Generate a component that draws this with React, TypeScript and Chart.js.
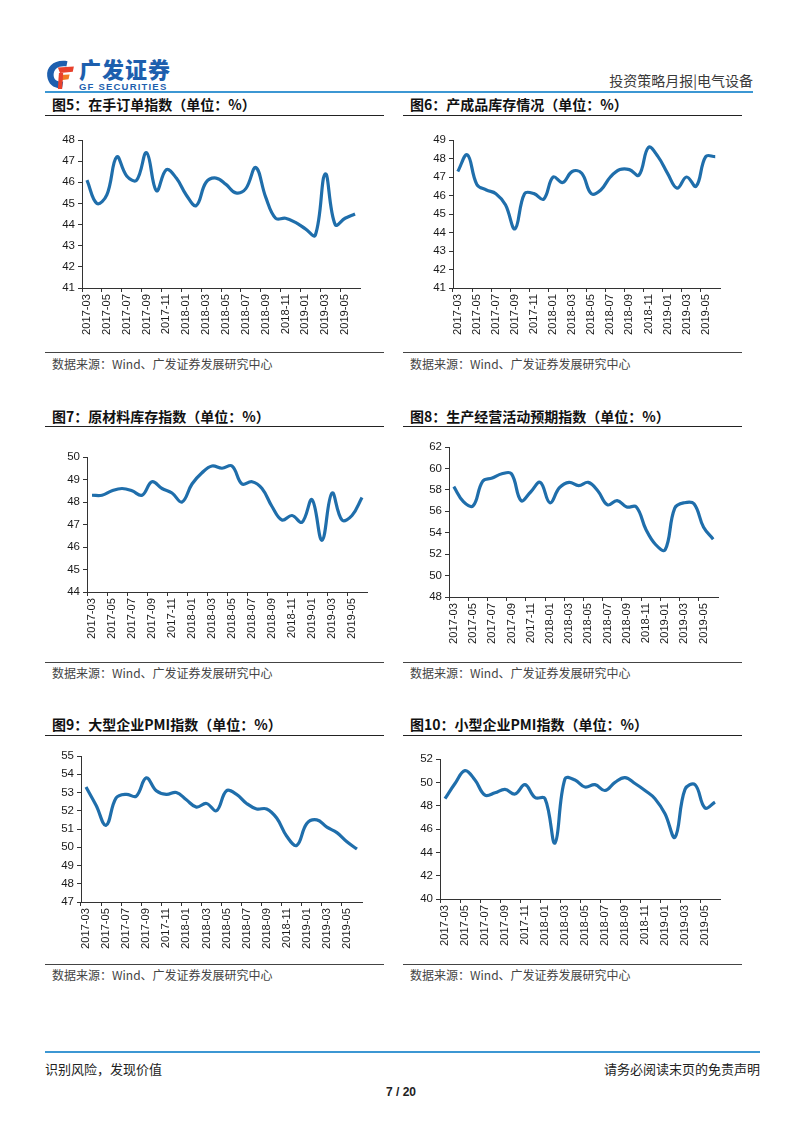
import React, { useEffect, useRef } from "react";
import { Chart, registerables } from "chart.js";
Chart.register(...registerables);

// ---------- data ----------
const months = [
  "2017-03", "2017-04", "2017-05", "2017-06", "2017-07", "2017-08", "2017-09",
  "2017-10", "2017-11", "2017-12", "2018-01", "2018-02", "2018-03", "2018-04",
  "2018-05", "2018-06", "2018-07", "2018-08", "2018-09", "2018-10", "2018-11",
  "2018-12", "2019-01", "2019-02", "2019-03", "2019-04", "2019-05", "2019-06",
];
const onHandOrders = [46.1, 45.0, 45.4, 47.2, 46.3, 46.1, 47.4, 45.6, 46.6, 46.2, 45.4, 44.9, 46.0, 46.2, 45.9, 45.5, 45.7, 46.7, 45.3, 44.3, 44.3, 44.1, 43.8, 43.5, 46.4, 44.0, 44.3, 44.5];
const finishedGoods = [47.3, 48.2, 46.6, 46.3, 46.1, 45.5, 44.2, 46.1, 46.1, 45.8, 47.0, 46.7, 47.3, 47.2, 46.1, 46.3, 47.0, 47.4, 47.4, 47.1, 48.6, 48.1, 47.2, 46.4, 47.0, 46.5, 48.1, 48.1];
const rawMaterials = [48.3, 48.3, 48.5, 48.6, 48.5, 48.3, 48.9, 48.6, 48.4, 48.0, 48.8, 49.3, 49.6, 49.5, 49.6, 48.8, 48.9, 48.6, 47.8, 47.2, 47.4, 47.1, 48.1, 46.3, 48.4, 47.2, 47.4, 48.2];
const expectations = [58.3, 56.9, 56.5, 58.8, 59.1, 59.5, 59.5, 57.0, 57.8, 58.7, 56.8, 58.2, 58.7, 58.4, 58.7, 57.9, 56.6, 57.0, 56.4, 56.4, 54.3, 52.9, 52.4, 56.3, 56.8, 56.7, 54.5, 53.4];
const largePMI = [53.3, 52.3, 51.2, 52.7, 52.9, 52.8, 53.8, 53.1, 52.9, 53.0, 52.6, 52.2, 52.4, 52.0, 53.1, 52.9, 52.4, 52.1, 52.1, 51.6, 50.6, 50.1, 51.3, 51.5, 51.1, 50.8, 50.3, 49.9];
const smallPMI = [48.6, 49.9, 51.0, 50.2, 48.9, 49.1, 49.4, 49.0, 49.8, 48.7, 48.6, 44.8, 50.3, 50.2, 49.6, 49.8, 49.3, 50.0, 50.4, 49.9, 49.3, 48.6, 47.3, 45.3, 49.4, 49.8, 47.8, 48.3];

const titles = [
  "图5：在手订单指数（单位：%）",
  "图6：产成品库存情况（单位：%）",
  "图7：原材料库存指数（单位：%）",
  "图8：生产经营活动预期指数（单位：%）",
  "图9：大型企业PMI指数（单位：%）",
  "图10：小型企业PMI指数（单位：%）",
];
const sourceText = "数据来源：Wind、广发证券发展研究中心";

// ---------- styles / layout ----------
const LINE = "#1F6EAB";
const AXIS = "#333333";
const TXT = "#1a1a1a";
const TICK_FONT = "'Liberation Sans', Arial, sans-serif";
const CJK = "'Noto Sans CJK SC', 'Noto Sans', sans-serif";

const cols = [
  { lineL: 45, lineR: 384, textX: 52 },
  { lineL: 403, lineR: 742, textX: 410 },
];
const rows = [
  { title: 104, titleLine: 115, srcLine: 352, src: 364 },
  { title: 416, titleLine: 426, srcLine: 662, src: 673 },
  { title: 724, titleLine: 735, srcLine: 964, src: 975 },
];

type Plot = { l: number; t: number; r: number; b: number };
const panels: { data: number[]; min: number; max: number; step: number; plot: Plot; col: number; row: number }[] = [
  { data: onHandOrders, min: 41, max: 48, step: 1, plot: { l: 82, t: 140, r: 360, b: 288 }, col: 0, row: 0 },
  { data: finishedGoods, min: 41, max: 49, step: 1, plot: { l: 453, t: 140, r: 720, b: 288 }, col: 1, row: 0 },
  { data: rawMaterials, min: 44, max: 50, step: 1, plot: { l: 87, t: 457, r: 367, b: 592 }, col: 0, row: 1 },
  { data: expectations, min: 48, max: 62, step: 2, plot: { l: 449, t: 447, r: 718, b: 597 }, col: 1, row: 1 },
  { data: largePMI, min: 47, max: 55, step: 1, plot: { l: 81, t: 756, r: 362, b: 902 }, col: 0, row: 2 },
  { data: smallPMI, min: 40, max: 52, step: 2, plot: { l: 440, t: 759, r: 720, b: 899 }, col: 1, row: 2 },
];

const YW = 40, PT = 12, PR = 12, XH = 54, PB = 4;

function LineChart({ data, min, max, step, plot }: { data: number[]; min: number; max: number; step: number; plot: Plot }) {
  const ref = useRef<HTMLCanvasElement>(null);
  const w = plot.r - plot.l + YW + PR;
  const h = plot.b - plot.t + PT + XH + PB;
  useEffect(() => {
    const chart = new Chart(ref.current as HTMLCanvasElement, {
      type: "line",
      data: {
        labels: months,
        datasets: [
          {
            data,
            borderColor: LINE,
            borderWidth: 3.2,
            pointRadius: 0,
            tension: 0.4,
            fill: false,
          },
        ],
      },
      options: {
        animation: false,
        responsive: false,
        devicePixelRatio: 1,
        events: [],
        layout: { padding: { left: 0, right: PR, top: PT, bottom: PB } },
        plugins: { legend: { display: false }, tooltip: { enabled: false } },
        scales: {
          x: {
            type: "category",
            offset: true,
            grid: {
              offset: true,
              drawOnChartArea: false,
              drawTicks: true,
              tickLength: 4,
              color: (c: any) => (c.index % 2 === 0 ? AXIS : "rgba(0,0,0,0)"),
            },
            border: { display: true, color: AXIS, width: 1 },
            ticks: {
              autoSkip: false,
              minRotation: 90,
              maxRotation: 90,
              padding: 2,
              color: TXT,
              font: { family: TICK_FONT, size: 11.2 },
              callback: (_v: any, i: number) => (i % 2 === 0 ? months[i] : ""),
            },
            afterFit: (s: any) => {
              s.height = XH;
            },
          },
          y: {
            min,
            max,
            grid: { drawOnChartArea: false, drawTicks: true, tickLength: 4, color: AXIS },
            border: { display: true, color: AXIS, width: 1 },
            ticks: {
              stepSize: step,
              padding: 3,
              color: TXT,
              font: { family: TICK_FONT, size: 11.5 },
            },
            afterFit: (s: any) => {
              s.width = YW;
            },
          },
        },
      },
    } as any);
    return () => chart.destroy();
  }, []);
  return (
    <canvas
      ref={ref}
      width={w}
      height={h}
      style={{ position: "absolute", left: plot.l - YW, top: plot.t - PT, width: w, height: h }}
    />
  );
}

function Logo() {
  return (
    <svg width="32" height="34" viewBox="0 0 30 30" style={{ position: "absolute", left: 44, top: 57 }}>
      <path d="M22 3 C10 1 2 8 3 17 C4 25 10 29 17 28 L18 22 C12 23 9 20 9 16 C9 10 14 7 21 8 Z" fill="#1d5fae" />
      <path d="M13 9 L28 8 L27 13 L15 14 Z" fill="#e8412c" />
      <path d="M14 16 L24 15.5 L23 20 L14 21 Z" fill="#f07a22" />
      <path d="M14 14 L18 14 L17 29 L13 29 Z" fill="#e8412c" />
    </svg>
  );
}

export default function App() {
  const abs = (o: React.CSSProperties): React.CSSProperties => ({ position: "absolute", whiteSpace: "nowrap", ...o });
  return (
    <div style={{ position: "absolute", left: 0, top: 0, width: 802, height: 1133, background: "#fff", overflow: "hidden" }}>
      {/* header */}
      <Logo />
      <div style={abs({ left: 79, top: 55, fontFamily: CJK, fontWeight: 900, fontSize: 22, lineHeight: "26px", color: "#1d5fae", letterSpacing: 1 })}>广发证券</div>
      <div style={abs({ left: 79, top: 81, fontFamily: "'Liberation Sans', Arial, sans-serif", fontWeight: 700, fontSize: 9.5, lineHeight: "12px", color: "#1d5fae", letterSpacing: 1.2 })}>GF SECURITIES</div>
      <div style={abs({ right: 802 - 753, top: 70, fontFamily: CJK, fontSize: 14, lineHeight: "20px", color: "#3a3a3a" })}>投资策略月报|电气设备</div>
      <div style={abs({ left: 45, top: 91, width: 708, height: 2, background: "#3c97d3" })} />

      {panels.map((p, i) => {
        const c = cols[p.col];
        const r = rows[p.row];
        return (
          <React.Fragment key={i}>
            <div style={abs({ left: c.textX, top: r.title - 10, fontFamily: CJK, fontWeight: 700, fontSize: 14, lineHeight: "20px", color: "#111" })}>{titles[i]}</div>
            <div style={abs({ left: c.lineL, top: r.titleLine, width: c.lineR - c.lineL, height: 1, background: "#222" })} />
            <LineChart data={p.data} min={p.min} max={p.max} step={p.step} plot={p.plot} />
            <div style={abs({ left: c.lineL, top: r.srcLine, width: c.lineR - c.lineL, height: 1, background: "#444" })} />
            <div style={abs({ left: c.textX, top: r.src - 9, fontFamily: CJK, fontSize: 12, lineHeight: "18px", color: "#444" })}>{sourceText}</div>
          </React.Fragment>
        );
      })}

      {/* footer */}
      <div style={abs({ left: 45, top: 1051, width: 715, height: 2, background: "#3c97d3" })} />
      <div style={abs({ left: 45, top: 1059, fontFamily: CJK, fontSize: 13, lineHeight: "20px", color: "#222" })}>识别风险，发现价值</div>
      <div style={abs({ right: 802 - 760, top: 1059, fontFamily: CJK, fontSize: 13, lineHeight: "20px", color: "#222" })}>请务必阅读末页的免责声明</div>
      <div style={abs({ left: 0, width: 802, textAlign: "center", top: 1083, fontFamily: "'Liberation Sans', Arial, sans-serif", fontWeight: 700, fontSize: 12, lineHeight: "18px", color: "#222" })}>7 / 20</div>
    </div>
  );
}
